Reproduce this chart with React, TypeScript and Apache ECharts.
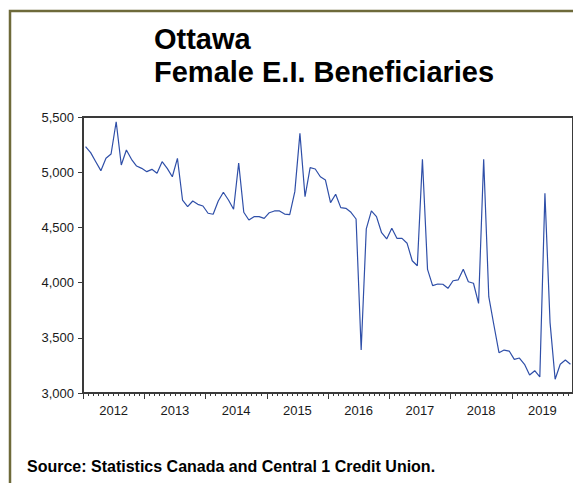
import React, { useEffect, useRef } from "react";
import * as echarts from "echarts";

const years = ["2012", "2013", "2014", "2015", "2016", "2017", "2018", "2019"];
const monthNames = ["01", "02", "03", "04", "05", "06", "07", "08", "09", "10", "11", "12"];

const v2012 = [5231, 5177, 5095, 5014, 5126, 5165, 5457, 5065, 5201, 5117, 5056, 5035];
const v2013 = [5005, 5026, 4990, 5095, 5035, 4959, 5126, 4748, 4688, 4739, 4709, 4694];
const v2014 = [4628, 4619, 4739, 4818, 4748, 4664, 5083, 4637, 4567, 4597, 4597, 4582];
const v2015 = [4633, 4649, 4649, 4621, 4615, 4824, 5352, 4778, 5041, 5029, 4959, 4929];
const v2016 = [4724, 4800, 4679, 4673, 4637, 4576, 3389, 4486, 4649, 4597, 4452, 4395];
const v2017 = [4492, 4401, 4401, 4356, 4198, 4153, 5117, 4120, 3972, 3987, 3985, 3948];
const v2018 = [4017, 4024, 4120, 4008, 3994, 3812, 5117, 3872, 3616, 3365, 3389, 3380];
const v2019 = [3305, 3317, 3260, 3163, 3202, 3145, 4809, 3640, 3124, 3260, 3299, 3260];

const yTicks = [3000, 3500, 4000, 4500, 5000, 5500];

const titleLine1 = "Ottawa";
const titleLine2 = "Female E.I. Beneficiaries";
const sourceText = "Source: Statistics Canada and Central 1 Credit Union.";

const FONT = "'Liberation Sans', Arial, Helvetica, sans-serif";

export default function App() {
  const ref = useRef<HTMLDivElement>(null);

  useEffect(() => {
    if (!ref.current) return;
    const chart = echarts.init(ref.current, undefined, { renderer: "svg" });
    const months: string[] = [];
    years.forEach((y) => monthNames.forEach((m) => months.push(`${y}-${m}`)));
    const values = [...v2012, ...v2013, ...v2014, ...v2015, ...v2016, ...v2017, ...v2018, ...v2019];

    const option: any = {
      animation: false,
      backgroundColor: "#ffffff",
      grid: {
        left: 83,
        top: 117,
        width: 490.6,
        height: 276,
        show: true,
        borderColor: "#3a3a3a",
        borderWidth: 2,
        backgroundColor: "transparent",
      },
      xAxis: [
        {
          type: "category",
          data: months,
          boundaryGap: true,
          position: "bottom",
          axisLine: { show: true, lineStyle: { color: "#3a3a3a", width: 2 } },
          axisTick: { show: true, interval: 0, length: 3, lineStyle: { color: "#3a3a3a", width: 1 } },
          axisLabel: { show: false },
          splitLine: { show: false },
        },
        {
          type: "category",
          data: years,
          boundaryGap: true,
          position: "bottom",
          axisLine: { show: false },
          axisTick: { show: true, interval: 0, length: 6, lineStyle: { color: "#3a3a3a", width: 1 } },
          axisLabel: { show: true, interval: 0, margin: 11, color: "#1a1a1a", fontSize: 13, fontFamily: FONT },
          splitLine: { show: false },
        },
      ],
      yAxis: {
        type: "value",
        min: 3000,
        max: 5500,
        interval: 500,
        axisLine: { show: true, lineStyle: { color: "#3a3a3a", width: 2 } },
        axisTick: { show: true, length: 5, lineStyle: { color: "#3a3a3a", width: 1 } },
        axisLabel: {
          margin: 9,
          color: "#1a1a1a",
          fontSize: 13,
          fontFamily: FONT,
          formatter: (v: number) => (yTicks.includes(v) ? v.toLocaleString("en-US") : ""),
        },
        splitLine: { show: false },
      },
      series: [
        {
          type: "line",
          xAxisIndex: 0,
          data: values,
          symbol: "none",
          lineStyle: { color: "#2f4fa8", width: 1.2 },
        },
      ],
      graphic: [
        {
          type: "rect",
          shape: { x: 10, y: 11, width: 800, height: 800 },
          style: { fill: "none", stroke: "#6e6a3a", lineWidth: 2.5 },
        },
        {
          type: "text",
          x: 154,
          y: 39,
          style: {
            text: titleLine1,
            font: `bold 29px ${FONT}`,
            fill: "#000000",
            verticalAlign: "middle",
          },
        },
        {
          type: "text",
          x: 154,
          y: 72,
          style: {
            text: titleLine2,
            font: `bold 29px ${FONT}`,
            fill: "#000000",
            verticalAlign: "middle",
          },
        },
        {
          type: "text",
          x: 27,
          y: 466,
          style: {
            text: sourceText,
            font: `bold 16px ${FONT}`,
            fill: "#000000",
            verticalAlign: "middle",
          },
        },
      ],
    };
    chart.setOption(option);
    return () => chart.dispose();
  }, []);

  return (
    <div
      ref={ref}
      style={{ position: "fixed", left: 0, top: 0, width: 573, height: 483, background: "#fff" }}
    />
  );
}
